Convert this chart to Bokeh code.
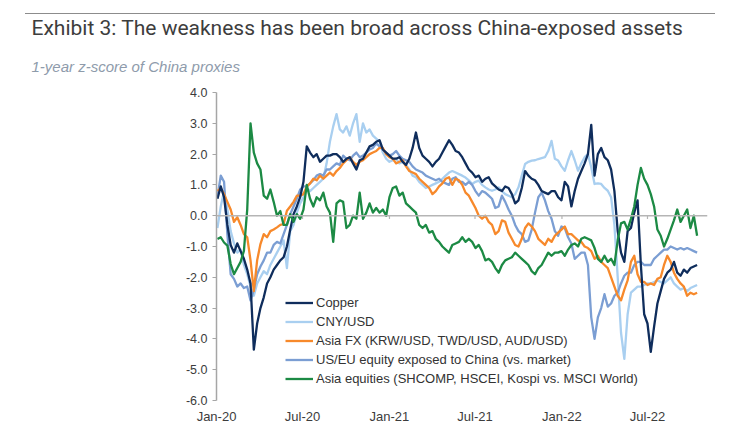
import pandas as pd
from datetime import datetime
from bokeh.plotting import figure
from bokeh.models import (Range1d, FixedTicker, DatetimeTickFormatter, NumeralTickFormatter,
                          Span, Legend, LegendItem, Title, ColumnDataSource)
from bokeh.embed import file_html
from bokeh.resources import INLINE

TITLE = "Exhibit 3: The weakness has been broad across China-exposed assets"
SUBTITLE = "1-year z-score of China proxies"

# weekly observations starting 2020-01-03
START = "2020-01-03"
N_WEEKS = 146

copper = [0.55, 0.95, 0.6, -0.3, -0.95, -1.2, -0.9, -1.15, -1.4, -1.75,
          -2.2, -4.35, -3.5, -3.0, -2.65, -2.2, -2.0, -1.75, -1.6, -1.45,
          -1.35, -1.0, -0.45, 0.05, 0.3, 0.6, 1.1, 2.25, 2.05, 1.9,
          2.0, 1.75, 1.85, 1.95, 1.95, 2.0, 2.0, 1.9, 1.75, 1.85,
          1.9, 1.7, 1.5, 1.8, 1.85, 2.05, 2.25, 2.3, 2.4, 2.45,
          2.15, 2.05, 1.95, 1.85, 1.85, 1.9, 1.75, 1.65, 1.85, 2.2,
          2.7, 2.2, 1.95, 1.85, 1.75, 1.6, 1.75, 1.85, 2.05, 2.25,
          2.45, 2.3, 2.1, 2.05, 1.9, 1.7, 1.5, 1.4, 1.25, 1.3,
          1.1, 1.2, 1.25, 1.05, 0.95, 0.85, 0.8, 0.95, 0.9, 0.7,
          0.4, 0.5, 0.9, 1.45, 1.3, 1.2, 1.15, 1.0, 0.8, 0.75,
          0.7, 0.8, 0.8, 0.6, 0.5, 1.1, 0.95, 0.3, 0.8, 1.2,
          1.45, 1.7, 2.0, 2.95, 1.3, 2.0, 2.2, 1.9, 1.8, 1.5,
          0.8, -0.5, -1.2, -1.5, -0.5, -0.4, 0.1, 0.5, -1.6, -3.2,
          -3.5, -4.42, -3.6, -2.85, -2.45, -2.05, -1.85, -1.75, -1.5, -1.85,
          -1.95, -1.75, -1.85, -1.7, -1.65, -1.6]

cny_usd = [-0.4, 0.3, 0.8, 0.2, -0.5, -0.9, -1.2, -1.1, -1.6, -1.9,
           -2.3, -2.6, -2.2, -2.0, -1.8, -1.9, -1.6, -1.4, -1.2, -1.0,
           -0.8, -1.7, -0.5, -0.3, 0.1, 0.4, 0.6, 0.9, 0.8, 0.9,
           1.0, 1.1, 1.2, 1.7, 2.4, 2.9, 3.3, 2.8, 2.7, 2.9,
           2.6, 3.0, 3.3, 2.4, 3.0, 2.7, 2.8, 2.6, 2.5, 2.4,
           2.05, 1.85, 1.75, 1.8, 1.85, 1.7, 1.75, 1.65, 1.5, 1.3,
           1.25, 1.1, 1.0, 0.9, 0.95, 1.0, 1.05, 1.1, 1.2, 1.3,
           1.4, 1.45, 1.4, 1.35, 1.3, 1.24, 1.15, 1.03, 1.1, 1.14,
           1.0, 0.92, 0.85, 0.81, 0.85, 0.92, 0.8, 0.7, 0.65, 0.6,
           0.7, 0.92, 1.3, 1.68, 1.75, 1.79, 1.8, 1.84, 1.87, 1.9,
           2.1, 2.43, 1.85, 1.79, 1.6, 1.46, 1.8, 2.1, 1.8, 1.46,
           1.7, 1.9, 2.0, 1.57, 1.03, 1.05, 1.03, 0.9, 0.81, 0.6,
           -0.3, -2.0, -3.8, -4.65, -3.2, -2.5, -2.4, -2.3, -2.3, -2.25,
           -2.2, -2.2, -2.15, -2.1, -2.15, -2.2, -2.1, -2.0, -2.2, -2.3,
           -2.4, -2.35, -2.45, -2.35, -2.3, -2.25]

asia_fx = [0.8, 0.9, 0.7, 0.45, 0.2, -0.2, -0.05, -0.3, -0.6, -0.7,
           -1.45, -2.45, -1.45, -0.92, -0.6, -0.7, -0.5, -0.45, -0.38, -0.3,
           -0.27, 0.16, 0.3, 0.45, 0.65, 0.65, 0.7, 0.95, 1.05, 1.2,
           1.15, 1.3, 1.2, 1.3, 1.4, 1.3, 1.45, 1.55, 1.7, 1.8,
           1.9, 1.75, 1.65, 1.75, 1.8, 1.9, 2.0, 2.05, 2.1, 2.2,
           2.2, 2.0, 1.9, 1.85, 1.7, 1.75, 1.8, 1.6, 1.45, 1.4,
           1.35, 1.2, 1.1, 1.0, 0.9, 0.7, 0.8, 0.95, 1.05, 1.2,
           1.25, 1.0, 1.2, 1.15, 1.0, 0.75, 0.65, 0.45, 0.25, 0.0,
           -0.1, 0.0, -0.2, -0.3, -0.6, -0.5, -0.15, -0.2, -0.55, -0.75,
           -0.95, -1.0, -0.75, -0.4, -0.25, -0.35, -0.5, -0.75, -0.85, -0.95,
           -0.75, -0.85, -0.65, -0.55, -0.45, -0.35, -0.6, -0.6, -0.7, -0.8,
           -0.85, -1.0, -1.05, -1.15, -1.4, -1.3, -1.5, -1.6, -1.7, -2.0,
           -2.3, -2.6, -2.75, -2.4, -2.1, -1.5, -1.3, -1.9, -2.15, -2.15,
           -2.25, -2.2, -2.25, -2.05, -2.0, -1.6, -1.3, -1.5, -1.85, -2.05,
           -2.2, -2.3, -2.6, -2.5, -2.55, -2.5]

us_eu_equity = [0.6, 1.3, 1.1, -0.6, -1.9, -2.05, -2.3, -2.2, -2.35, -2.3,
                -2.75, -2.4, -1.9, -1.65, -1.45, -1.2, -1.2, -0.95, -0.85, -0.9,
                -0.6, -0.3, 0.05, 0.3, 0.55, 0.85, 0.95, 0.95, 1.05, 1.15,
                1.3, 1.35, 1.3, 1.5, 1.5, 1.6, 1.7, 1.65, 1.95, 1.85,
                1.8, 1.95, 2.05, 1.9, 1.95, 2.05, 2.15, 2.2, 2.35, 2.25,
                2.15, 2.05, 1.95, 2.0, 2.1, 1.95, 1.85, 1.8, 1.75, 1.6,
                1.5, 1.45, 1.4, 1.3, 1.25, 1.2, 1.15, 1.2, 1.1, 1.05,
                1.0, 1.2, 1.25, 1.1, 1.1, 1.0, 1.1, 1.0, 0.8, 0.65,
                0.8, 0.75, 0.65, 0.55, 0.25, 0.3, 0.65, 0.45, 0.2, 0.0,
                -0.3, -0.5, -0.6, -0.85, -0.8, -0.45, 0.1, 0.6, 0.75, 0.5,
                0.15, -0.1, -0.5, -0.65, -0.35, -0.4, -0.7, -0.9, -1.4, -1.3,
                -1.2, -1.2, -1.6, -3.3, -4.0, -3.3, -3.0, -2.55, -2.95, -2.85,
                -2.6, -2.5, -2.2, -1.95, -1.85, -1.85, -1.6, -1.5, -1.5, -1.6,
                -1.6, -1.6, -1.4, -1.3, -1.2, -1.1, -1.1, -1.0, -1.05, -1.1,
                -1.05, -1.1, -1.05, -1.1, -1.15, -1.2]

asia_equities = [-0.76, -0.7, -0.87, -0.97, -1.57, -1.9, -1.7, -1.5, -1.14, 0.2,
                 3.0, 2.05, 1.7, 1.5, 0.65, 0.55, 0.85, 0.45, 0.0, 0.15,
                 -0.3, -0.3, 0.05, -0.2, 0.05, -0.1, 0.2, 1.0, 0.55, 0.3,
                 0.6, 0.5, 0.75, 0.3, 0.1, -0.85, 0.4, 0.5, 0.45, -0.4,
                 -0.3, 0.0, -0.1, 0.75, -0.1, 0.1, 0.4, 0.1, 0.25, 0.1,
                 0.2, 0.0, 0.6, 0.9, 0.95, 0.65, 0.75, 0.4, 0.3, 0.2,
                 0.1, -0.3, -0.4, -0.3, -0.55, -0.5, -0.75, -0.85, -1.0, -1.1,
                 -1.2, -0.95, -0.9, -0.85, -0.7, -0.85, -0.75, -0.85, -1.05, -0.95,
                 -1.15, -1.45, -1.4, -1.5, -1.7, -1.85, -1.6, -1.45, -1.4, -1.35,
                 -1.2, -1.3, -1.4, -1.5, -1.6, -1.8, -1.9, -1.7, -1.6, -1.4,
                 -1.2, -1.3, -1.2, -1.2, -1.15, -1.3, -1.1, -0.95, -0.9, -1.0,
                 -0.75, -0.7, -0.75, -0.8, -1.05, -1.4, -1.5, -1.3, -1.5, -1.4,
                 -1.6, -0.8, -0.25, -0.2, -0.45, -0.1, 0.3, 1.0, 1.55, 1.2,
                 1.0, 0.7, 0.3, -0.45, -0.65, -1.0, -0.75, -0.45, -0.15, 0.2,
                 -0.2, 0.0, 0.2, -0.4, 0.0, -0.65]

series_labels = ["Copper", "CNY/USD", "Asia FX (KRW/USD, TWD/USD, AUD/USD)",
                 "US/EU equity exposed to China (vs. market)",
                 "Asia equities (SHCOMP, HSCEI, Kospi vs. MSCI World)"]
series_colors = ["#0f2d5c", "#a9cff0", "#f7892b", "#7b9ed3", "#1c8a44"]

x_tick_dates = ["2020-01-01", "2020-07-01", "2021-01-01", "2021-07-01", "2022-01-01", "2022-07-01"]
y_ticks = [4, 3, 2, 1, 0, -1, -2, -3, -4, -5, -6]
x_start, x_end = datetime(2020, 1, 1), datetime(2022, 11, 5)
y_start, y_end = -6, 4

dates = pd.date_range(START, periods=N_WEEKS, freq="7D")
src = ColumnDataSource(dict(date=dates, copper=copper, cny=cny_usd, fx=asia_fx,
                            useu=us_eu_equity, eq=asia_equities))

FONT = "Liberation Sans"
p = figure(width=736, height=432, x_axis_type="datetime",
           x_range=Range1d(x_start, x_end), y_range=Range1d(y_start, y_end),
           output_backend="svg", toolbar_location=None,
           min_border_left=216, min_border_right=29, min_border_top=92, min_border_bottom=32)
p.outline_line_color = None
p.grid.visible = False
p.background_fill_color = "white"
p.border_fill_color = None

# thin grey rule across the top, drawn as a CSS background stripe behind the transparent border
p.styles = {
    "background-color": "white",
    "background-image": "linear-gradient(#8c8c8c, #8c8c8c)",
    "background-repeat": "no-repeat",
    "background-position": "25px 13px",
    "background-size": "690px 1px",
}

# main title (outer) and subtitle (added later -> closer to the plot)
p.title.text = TITLE
p.title.align = "left"
p.title.offset = -185
p.title.text_font = "Roboto"
p.title.text_font_style = "normal"
p.title.text_font_size = "21px"
p.title.text_color = "#3d3d3d"
try:
    p.title.standoff = -4
except Exception:
    p.title.standoff = 0
sub = Title(text=SUBTITLE, align="left", offset=-185, text_font=FONT,
            text_font_style="italic", text_font_size="15px", text_color="#8e9bab", standoff=36)
p.add_layout(sub, "above")

# axes
yax = p.yaxis[0]
yax.ticker = FixedTicker(ticks=y_ticks)
yax.formatter = NumeralTickFormatter(format="0.0")
yax.axis_line_color = "#a6a6a6"
yax.axis_line_width = 1.5
yax.major_tick_line_color = "#a6a6a6"
yax.major_tick_out = 4
yax.major_tick_in = 0
yax.minor_tick_line_color = None
yax.major_label_standoff = 5
yax.major_label_text_font = FONT
yax.major_label_text_font_size = "12.5px"
yax.major_label_text_color = "#3c3c3c"

tick_ms = [pd.Timestamp(d).value // 10**6 for d in x_tick_dates]
xax = p.xaxis[0]
xax.ticker = FixedTicker(ticks=tick_ms)
fmt = "%b-%y"
xax.formatter = DatetimeTickFormatter(milliseconds=fmt, seconds=fmt, minsec=fmt, minutes=fmt,
                                      hourmin=fmt, hours=fmt, days=fmt, months=fmt, years=fmt)
xax.axis_line_color = None
xax.major_tick_line_color = None
xax.minor_tick_line_color = None
xax.major_tick_out = 0
xax.major_label_standoff = 8
xax.major_label_text_font = FONT
xax.major_label_text_font_size = "13px"
xax.major_label_text_color = "#3c3c3c"

# zero line with small ticks
p.add_layout(Span(location=0, dimension="width", line_color="#b5b5b5", line_width=1.5))
tick_src = ColumnDataSource(dict(x=pd.to_datetime(x_tick_dates[1:]),
                                 y0=[0] * (len(x_tick_dates) - 1),
                                 y1=[-0.11] * (len(x_tick_dates) - 1)))
p.segment(x0="x", y0="y0", x1="x", y1="y1", source=tick_src, line_color="#b5b5b5", line_width=1.2)

cols = ["copper", "cny", "fx", "useu", "eq"]
renderers = {}
for c, col in zip(["cny", "useu", "fx", "copper", "eq"], [1, 3, 2, 0, 4]):
    renderers[c] = p.line(x="date", y=c, source=src, line_color=series_colors[col],
                          line_width=2.3, line_join="round")

items = [LegendItem(label=lab, renderers=[renderers[c]]) for lab, c in zip(series_labels, cols)]
legend = Legend(items=items, location=(69, 12), orientation="vertical",
                background_fill_alpha=0, border_line_color=None, padding=0, margin=0,
                spacing=0, label_height=19, glyph_height=19, glyph_width=28, label_standoff=3,
                label_text_font=FONT, label_text_font_size="13px", label_text_color="#333333")
p.add_layout(legend)

open("out.html", "w").write(file_html(p, INLINE))
